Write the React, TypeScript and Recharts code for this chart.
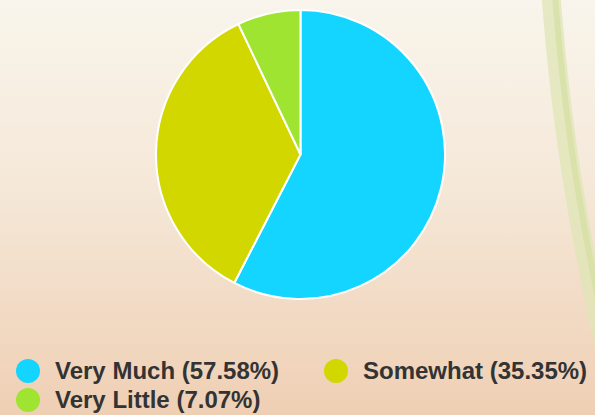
import React from "react";
import { PieChart, Pie, Cell, Legend } from "recharts";

const categories = ["Very Much", "Somewhat", "Very Little"];
const values = [57, 35, 7];
const colors = ["#13d5ff", "#d3d700", "#9ee431"];

const total = values.reduce((a, b) => a + b, 0);
const data = categories.map((name, i) => ({
  name,
  value: values[i],
  label: `${name} (${((values[i] / total) * 100).toFixed(2)}%)`,
}));

const renderLegend = () => {
  return (
    <div style={{ display: "flex", flexWrap: "wrap", width: 595 }}>
      {data.map((entry, i) => (
        <div
          key={entry.name}
          style={{
            width: i % 2 === 0 ? 308 : 270,
            height: 29,
            display: "flex",
            alignItems: "center",
            boxSizing: "border-box",
            paddingLeft: 16,
          }}
        >
          <div
            style={{
              width: 24,
              height: 24,
              borderRadius: 12,
              background: colors[i],
              flex: "0 0 auto",
            }}
          />
          <span
            style={{
              marginLeft: 15,
              fontFamily: "Arial, 'Liberation Sans', sans-serif",
              fontWeight: "bold",
              fontSize: 24,
              color: "#333333",
              whiteSpace: "nowrap",
            }}
          >
            {entry.label}
          </span>
        </div>
      ))}
    </div>
  );
};

export default function App() {
  return (
    <div
      style={{
        position: "absolute",
        left: 0,
        top: 0,
        width: 595,
        height: 415,
        overflow: "hidden",
        background: "linear-gradient(to bottom, #f9f5ec 0%, #f5e8d8 45%, #efcfb4 100%)",
      }}
    >
      <svg
        width={595}
        height={415}
        style={{ position: "absolute", left: 0, top: 0 }}
      >
        <path
          d="M551,-5 C556,60 564,130 574,190 C582,240 592,290 604,345"
          stroke="#dfe6b6"
          strokeWidth={19}
          fill="none"
          opacity={0.75}
        />
        <path
          d="M555,-5 C560,60 568,130 578,190 C586,240 596,290 608,345"
          stroke="#d2dd9c"
          strokeWidth={6}
          fill="none"
          opacity={0.6}
        />
      </svg>
      <div style={{ position: "absolute", left: 0, top: 0 }}>
        <PieChart width={595} height={415} margin={{ top: 0, right: 0, bottom: 0, left: 0 }}>
          <Pie
            data={data}
            dataKey="value"
            nameKey="name"
            cx={300.5}
            cy={154.5}
            outerRadius={144.5}
            startAngle={90}
            endAngle={-270}
            stroke="#ffffff"
            strokeWidth={2}
            isAnimationActive={false}
          >
            {data.map((d, i) => (
              <Cell key={d.name} fill={colors[i]} />
            ))}
          </Pie>
          <Legend
            content={renderLegend}
            wrapperStyle={{ left: 0, top: 356, width: 595 }}
          />
        </PieChart>
      </div>
    </div>
  );
}
